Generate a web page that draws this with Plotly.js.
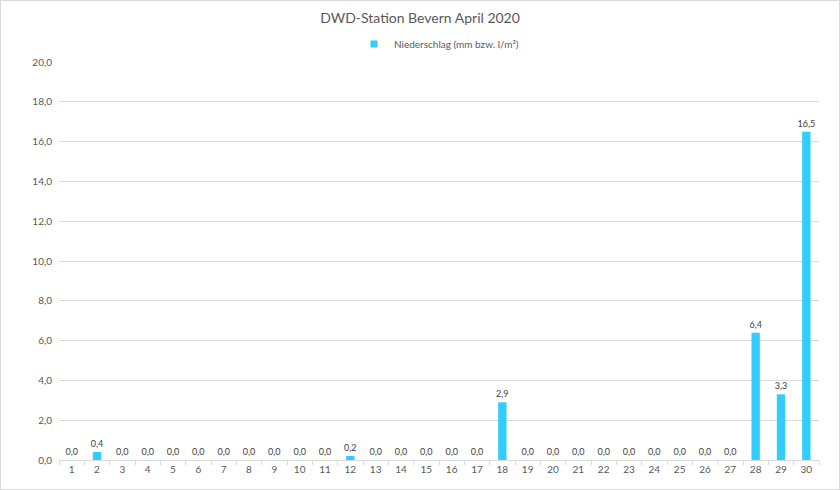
<!DOCTYPE html>
<html>
<head>
<meta charset="utf-8">
<script src="https://cdn.plot.ly/plotly-3.0.1.min.js"></script>
<style>
body{margin:0;padding:0;background:#fff;}
#chart{width:838px;height:488px;border:1px solid #d9d9d9;}
</style>
</head>
<body>
<div id="chart"></div>
<script>
const days = ["1","2","3","4","5","6","7","8","9","10","11","12","13","14","15","16","17","18","19","20","21","22","23","24","25","26","27","28","29","30"];
const niederschlag = [0,0.4,0,0,0,0,0,0,0,0,0,0.2,0,0,0,0,0,2.9,0,0,0,0,0,0,0,0,0,6.4,3.3,16.5];
const yTicks = [0,2,4,6,8,10,12,14,16,18,20];
const seriesName = 'Niederschlag (mm bzw. l/m²)';
const barColor = '#33ccff';

const trace = {
  type: 'bar',
  x: days,
  y: niederschlag,
  name: seriesName,
  showlegend: false,
  marker: {color: barColor},
  texttemplate: '%{y:.1f}',
  textposition: 'outside',
  constraintext: 'none',
  cliponaxis: false,
  textfont: {family: 'Lato, sans-serif', size: 9, color: '#404040'},
  hoverinfo: 'x+y'
};

// legend entry with a small square symbol
const legendTrace = {
  type: 'scatter',
  mode: 'markers',
  x: [null],
  y: [null],
  name: seriesName,
  marker: {color: barColor, symbol: 'square', size: 7},
  showlegend: true,
  hoverinfo: 'skip'
};

const layout = {
  width: 838, height: 488,
  margin: {l: 58, r: 20, t: 61, b: 29},
  paper_bgcolor: '#ffffff',
  plot_bgcolor: '#ffffff',
  separators: ',.',
  bargap: 0.67,
  font: {family: 'Lato, sans-serif', color: '#595959'},
  title: {text: 'DWD-Station Bevern April 2020', x: 0.5, xanchor: 'center', y: 0.975, yanchor: 'top',
          font: {size: 14, color: '#595959', family: 'Lato, sans-serif'}},
  showlegend: true,
  legend: {orientation: 'h', x: 0.5, xanchor: 'center', y: 1.045, yanchor: 'middle',
           font: {size: 10, color: '#595959'}, itemwidth: 30, tracegroupgap: 0},
  xaxis: {
    type: 'category',
    categoryorder: 'array',
    categoryarray: days,
    range: [-0.5, days.length - 0.5],
    showline: true, linecolor: '#d9d9d9', linewidth: 1,
    ticks: 'outside', tickson: 'boundaries', ticklen: 4, tickcolor: '#d9d9d9',
    tickfont: {size: 10, color: '#595959'},
    showgrid: false
  },
  yaxis: {
    range: [0, 20],
    tickvals: yTicks,
    tickformat: '.1f',
    showgrid: true, gridcolor: '#d9d9d9', gridwidth: 1,
    zeroline: false,
    showline: false,
    ticks: '',
    ticklabelstandoff: 6,
    tickfont: {size: 10, color: '#595959'}
  }
};

Plotly.newPlot('chart', [trace, legendTrace], layout, {displayModeBar: false, staticPlot: true});
</script>
</body>
</html>
